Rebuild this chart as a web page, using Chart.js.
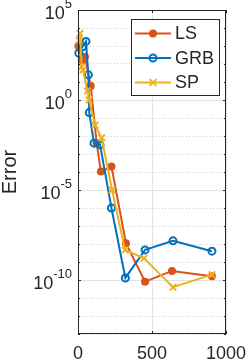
<!DOCTYPE html>
<html>
<head>
<meta charset="utf-8">
<script src="https://cdn.jsdelivr.net/npm/chart.js@4"></script>
<style>
  html, body { margin: 0; padding: 0; background: #fff; }
  #wrap { width: 249px; height: 361px; }
</style>
</head>
<body>
<div id="wrap"><canvas id="c" width="249" height="361"></canvas></div>
<script>
// data
const lsX  = [3, 25, 47, 86, 126, 155, 226, 324, 453, 635, 905];
const lsY  = [1e3, 1.6e2, 2.5e2, 6.0, 4e-3, 1.05e-4, 2e-4, 1.1e-8, 8e-11, 3.2e-10, 1.6e-10];
const grbX = [5, 30, 54, 70, 76, 108, 149, 226, 320, 453, 642, 905];
const grbY = [4e2, 9e2, 1.8e3, 25, 0.2, 4e-3, 3.2e-3, 1e-6, 1.3e-10, 4.7e-9, 1.5e-8, 4e-9];
const spX  = [7, 13, 25, 34, 63, 76, 115, 160, 230, 318, 446, 642, 905];
const spY  = [2.1e3, 5e3, 70, 47, 3.2, 1.0, 4e-2, 8e-3, 1e-5, 4.7e-9, 1.6e-9, 4e-11, 2e-10];

const xTicks = [0, 500, 1000];
const yMajor = [5, 0, -5, -10];          // exponents with labels
const yMin = -13, yMax = 5;

const pts = (xs, ys) => xs.map((x, i) => ({ x, y: ys[i] }));
const FONT = '"Liberation Sans", Arial, sans-serif';
const AX = '#262626';

const series = [
  { label: 'LS',  data: pts(lsX, lsY),   color: '#D95319', style: 'circle',   r: 3,   fill: true,  order: 3 },
  { label: 'GRB', data: pts(grbX, grbY), color: '#0072BD', style: 'circle',   r: 3.5, fill: false, order: 2 },
  { label: 'SP',  data: pts(spX, spY),   color: '#EDB120', style: 'crossRot', r: 4.5, fill: false, order: 1 },
];

// labels, box, inside ticks and legend (matlab look)
const matlabAxes = {
  id: 'matlabAxes',
  afterDraw(chart) {
    const { ctx, chartArea: a, scales } = chart;
    const xs = scales.x, ys = scales.y;
    ctx.save();
    ctx.strokeStyle = AX; ctx.lineWidth = 1;
    ctx.strokeRect(a.left + 0.5, a.top + 0.5, a.right - a.left - 1, a.bottom - a.top - 1);

    // inside ticks
    ctx.beginPath();
    xTicks.forEach(v => {
      const px = Math.round(xs.getPixelForValue(v)) + 0.5;
      ctx.moveTo(px, a.bottom); ctx.lineTo(px, a.bottom - 3);
      ctx.moveTo(px, a.top); ctx.lineTo(px, a.top + 3);
    });
    for (let e = yMin; e <= yMax; e++) {
      const py = Math.round(ys.getPixelForValue(Math.pow(10, e))) + 0.5;
      const len = yMajor.includes(e) ? 3 : 2;
      ctx.moveTo(a.left, py); ctx.lineTo(a.left + len, py);
      ctx.moveTo(a.right, py); ctx.lineTo(a.right - len, py);
    }
    ctx.stroke();

    // tick labels
    ctx.fillStyle = AX;
    ctx.textAlign = 'center'; ctx.textBaseline = 'alphabetic';
    ctx.font = '18px ' + FONT;
    xTicks.forEach(v => ctx.fillText(String(v), xs.getPixelForValue(v), 359));

    yMajor.forEach(e => {
      const py = ys.getPixelForValue(Math.pow(10, e));
      const sup = e < 0 ? '-' + Math.abs(e) : String(e);
      ctx.font = '13px ' + FONT;
      const sw = ctx.measureText(sup).width;
      const right = a.left - 6;
      ctx.textAlign = 'right';
      ctx.fillText(sup, right, py - 2);
      ctx.font = '18px ' + FONT;
      ctx.fillText('10', right - sw, py + 9);
    });

    // y title
    ctx.save();
    ctx.translate(16, 172);
    ctx.rotate(-Math.PI / 2);
    ctx.font = '20px ' + FONT;
    ctx.textAlign = 'center'; ctx.textBaseline = 'alphabetic';
    ctx.fillText('Error', 0, 0);
    ctx.restore();

    // legend
    const L = { x: 131, y: 19, w: 88, h: 76 };
    ctx.fillStyle = '#fff';
    ctx.fillRect(L.x, L.y, L.w, L.h);
    ctx.strokeStyle = AX; ctx.lineWidth = 1;
    ctx.strokeRect(L.x + 0.5, L.y + 0.5, L.w, L.h);
    chart.data.datasets.forEach((ds, i) => {
      const cy = 33.5 + i * 24.5;
      ctx.strokeStyle = ds.borderColor; ctx.lineWidth = 2;
      ctx.beginPath(); ctx.moveTo(135, cy); ctx.lineTo(171, cy); ctx.stroke();
      ctx.fillStyle = ds.borderColor;
      ctx.lineWidth = ds.pointBorderWidth;
      ctx.beginPath();
      if (ds.pointStyle === 'circle') {
        ctx.arc(153, cy, ds.pointRadius, 0, Math.PI * 2);
        if (ds.pointBackgroundColor !== 'rgba(0,0,0,0)') ctx.fill();
        ctx.stroke();
      } else {
        const r = ds.pointRadius * 0.75;
        ctx.moveTo(153 - r, cy - r); ctx.lineTo(153 + r, cy + r);
        ctx.moveTo(153 - r, cy + r); ctx.lineTo(153 + r, cy - r);
        ctx.stroke();
      }
      ctx.fillStyle = AX;
      ctx.font = '18px ' + FONT;
      ctx.textAlign = 'left'; ctx.textBaseline = 'middle';
      ctx.fillText(ds.label, 175, cy + 1);
    });
    ctx.restore();
  }
};

new Chart(document.getElementById('c'), {
  type: 'scatter',
  data: {
    datasets: series.map(s => ({
      label: s.label,
      data: s.data,
      showLine: true,
      borderColor: s.color,
      backgroundColor: s.color,
      borderWidth: 2,
      pointStyle: s.style,
      pointRadius: s.r,
      pointHoverRadius: s.r,
      pointBorderWidth: 2,
      pointBorderColor: s.color,
      pointBackgroundColor: s.fill ? s.color : 'rgba(0,0,0,0)',
      order: s.order,
      clip: false,
      tension: 0
    }))
  },
  options: {
    responsive: false,
    animation: false,
    devicePixelRatio: 1,
    layout: { padding: { left: 78, top: 10, right: 23, bottom: 27 } },
    plugins: { legend: { display: false }, tooltip: { enabled: false } },
    scales: {
      x: {
        type: 'linear', min: 0, max: 1000,
        afterBuildTicks: sc => { sc.ticks = xTicks.map(v => ({ value: v })); },
        ticks: { display: false },
        grid: { color: '#e3e3e3', drawTicks: false },
        border: { display: false }
      },
      y: {
        type: 'logarithmic', min: Math.pow(10, yMin), max: Math.pow(10, yMax),
        afterBuildTicks: sc => { sc.ticks = yMajor.map(e => ({ value: Math.pow(10, e) })); },
        ticks: { display: false },
        grid: { color: '#e3e3e3', drawTicks: false },
        border: { display: false }
      },
      yMinor: {
        type: 'logarithmic', position: 'left', min: Math.pow(10, yMin), max: Math.pow(10, yMax),
        afterBuildTicks: sc => {
          const t = [];
          for (let e = yMin; e <= yMax; e++) if (!yMajor.includes(e)) t.push({ value: Math.pow(10, e) });
          sc.ticks = t;
        },
        ticks: { display: false },
        grid: { color: '#cdcdcd', drawTicks: false, borderDash: [1, 2] },
        border: { display: false, dash: [1, 2] }
      }
    }
  },
  plugins: [matlabAxes]
});
</script>
</body>
</html>
